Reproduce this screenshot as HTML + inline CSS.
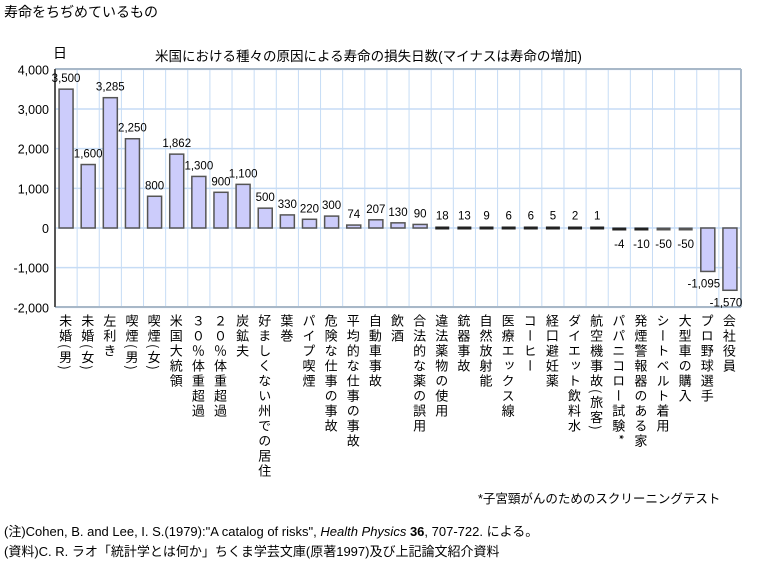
<!DOCTYPE html>
<html><head><meta charset="utf-8"><style>
body{margin:0;background:#fff;width:757px;height:564px;position:relative;overflow:hidden;font-family:"Liberation Sans","Noto Sans CJK JP",sans-serif;color:#000}
.t{position:absolute;white-space:nowrap}
.v{position:absolute;top:314px;writing-mode:vertical-rl;font-size:13px;line-height:14px;letter-spacing:2px;font-family:"Noto Sans CJK JP",sans-serif}
</style></head><body>
<div class="t" style="left:4px;top:2px;font-size:14px">寿命をちぢめているもの</div>
<div class="t" style="left:53px;top:43px;font-size:14px">日</div>
<div class="t" style="left:155px;top:45px;font-size:13.5px">米国における種々の原因による寿命の損失日数(マイナスは寿命の増加)</div>
<svg id="s" width="757" height="564" style="position:absolute;left:0;top:0"></svg>
<div id="labs"></div>
<div class="t" style="left:478px;top:488px;font-size:12.5px">*子宮頸がんのためのスクリーニングテスト</div>
<div class="t" style="left:4px;top:521px;font-size:13px">(注)Cohen, B. and Lee, I. S.(1979):"A catalog of risks", <i>Health Physics</i> <b>36</b>, 707-722. による。</div>
<div class="t" style="left:4px;top:541px;font-size:13px">(資料)C. R. ラオ「統計学とは何か」ちくま学芸文庫(原著1997)及び上記論文紹介資料</div>
<script>
(function(){
var vals=[3500,1600,3285,2250,800,1862,1300,900,1100,500,330,220,300,74,207,130,90,18,13,9,6,6,5,2,1,-4,-10,-50,-50,-1095,-1570];
var labs=["未婚(男)","未婚(女)","左利き","喫煙(男)","喫煙(女)","米国大統領","３０％体重超過","２０％体重超過","炭鉱夫","好ましくない州での居住","葉巻","パイプ喫煙","危険な仕事の事故","平均的な仕事の事故","自動車事故","飲酒","合法的な薬の誤用","違法薬物の使用","銃器事故","自然放射能","医療エックス線","コーヒー","経口避妊薬","ダイエット飲料水","航空機事故(旅客)","パパニコロー試験*","発煙警報器のある家","シートベルト着用","大型車の購入","プロ野球選手","会社役員"];
var L=55,R=741,T=69,B=307,n=31,w=(R-L)/n;
function y(v){return 228-v*0.03967;}
var s='';
for(var i=1;i<n;i++){var x=L+i*w;s+='<line x1="'+x+'" y1="'+T+'" x2="'+x+'" y2="'+B+'" stroke="#c6dcf5" stroke-width="1"/>';}
for(var k=-2;k<=4;k++){var yy=y(k*1000);s+='<line x1="'+L+'" y1="'+yy+'" x2="'+R+'" y2="'+yy+'" stroke="#c6dcf5" stroke-width="1.5"/>';
s+='<text x="'+(L-6)+'" y="'+(yy+5)+'" text-anchor="end" font-size="12.5" font-family="Liberation Sans">'+(k==0?'0':(k<0?'-':'')+Math.abs(k)+',000')+'</text>';}
s+='<line x1="'+R+'" y1="'+T+'" x2="'+R+'" y2="'+B+'" stroke="#a8b8c8" stroke-width="2"/>';
s+='<line x1="'+L+'" y1="'+T+'" x2="'+R+'" y2="'+T+'" stroke="#a8b8c8" stroke-width="2"/>';
s+='<line x1="'+L+'" y1="'+B+'" x2="'+R+'" y2="'+B+'" stroke="#a8b8c8" stroke-width="2"/>';
s+='<line x1="'+L+'" y1="'+T+'" x2="'+L+'" y2="'+B+'" stroke="#555" stroke-width="2"/>';
for(var i=0;i<n;i++){var v=vals[i],cx=L+(i+0.5)*w,bw=14;
var y0=y(0),y1=y(v),tp=Math.min(y0,y1),h=Math.abs(y1-y0);
if(Math.abs(v)<60){tp=y0-1.5;h=3;if(v<0)tp=y0-0.5;s+='<rect x="'+(cx-bw/2)+'" y="'+tp+'" width="'+bw+'" height="'+h+'" fill="'+(v<-20?'#555':'#222')+'"/>';}
else s+='<rect x="'+(cx-bw/2)+'" y="'+tp+'" width="'+bw+'" height="'+h+'" fill="#ccccfb" stroke="#555" stroke-width="1.5"/>';
var txt=(v<0?'-':'')+Math.abs(v).toLocaleString('en-US');
var ly=v>=0?tp-7:y1+16;
if(v<0&&v>-100)ly=y0+20;
var lx=cx; if(v<-1000) lx=cx-4;
s+='<text x="'+lx+'" y="'+ly+'" text-anchor="middle" font-size="11.5" font-family="Liberation Sans">'+txt+'</text>';}
document.getElementById('s').innerHTML=s;
var h2='';for(var i=0;i<n;i++){h2+='<div class="v" style="left:'+(L+(i+0.5)*w-8)+'px">'+labs[i]+'</div>';}
document.getElementById('labs').innerHTML=h2;
})();
</script>
</body></html>
